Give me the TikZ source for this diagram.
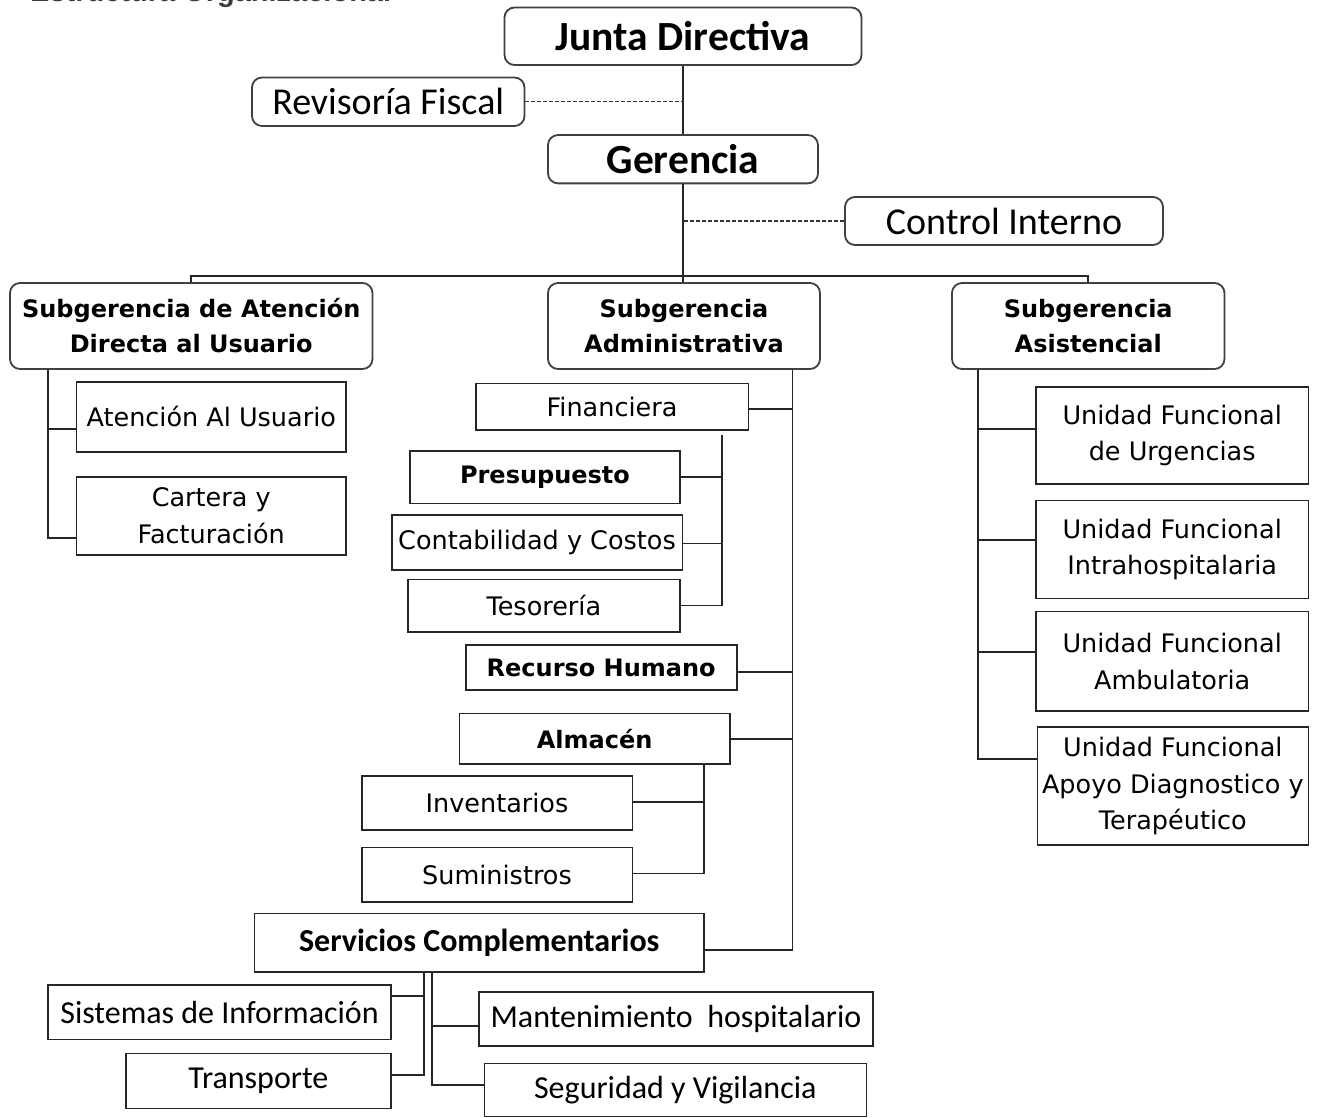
\documentclass[tikz,border=0pt]{standalone}
\usepackage{fontspec}
\usetikzlibrary{calc}
\newfontfamily\calfont{Carlito}
\newfontfamily\tahfont{DejaVu Sans}
\newfontfamily\titlefont{Liberation Sans}
\definecolor{titlegray}{RGB}{60,60,60}
\begin{document}
\begin{tikzpicture}[x=1pt,y=-1pt,
  rbox/.style={draw=black!75, line width=1.8pt, rounded corners=10pt, fill=white, inner sep=0pt, align=center},
  sbox/.style={draw=black!85, line width=1.6pt, fill=white, inner sep=0pt, align=center},
  calbig/.style={font=\calfont\bfseries\fontsize{41.5}{48}\selectfont},
  calmid/.style={font=\calfont\fontsize{38}{44}\selectfont},
  calbold/.style={font=\calfont\bfseries\fontsize{32}{38}\selectfont},
  calreg/.style={font=\calfont\fontsize{32}{38}\selectfont},
  tahbold/.style={font=\tahfont\bfseries\fontsize{24}{35}\selectfont},
  tahreg/.style={font=\tahfont\fontsize{25.5}{36.5}\selectfont},
  link/.style={line width=1.8pt, draw=black!85},
  dotlink/.style={line width=1.2pt, draw=black!80, dash pattern=on 4pt off 2pt}]
\fill[white] (0,0) rectangle (1317,1117);
\useasboundingbox (0,0) rectangle (1317,1117);
\begin{scope}
\clip (0,0) rectangle (1317,1117);
\node[anchor=base west, inner sep=0pt, font=\titlefont\bfseries\fontsize{29}{34}\selectfont, text=titlegray] (title) at (30,1) {Estructura Organizacional};
\end{scope}

% top levels
\node[rbox, calbig, minimum width=357pt, minimum height=57.5pt] (J) at (683,36.25) {Junta Directiva};
\node[rbox, calmid, minimum width=272.5pt, minimum height=48.5pt] (RF) at (388.25,101.75) {Revisoría Fiscal};
\node[rbox, calbig, minimum width=270pt, minimum height=48.3pt] (G) at (683,159.2) {Gerencia};
\node[rbox, calmid, minimum width=318pt, minimum height=48pt] (CI) at (1004,221) {Control Interno};

% subgerencias
\node[rbox, tahbold, minimum width=362.5pt, minimum height=86pt] (SA) at (191.25,326) {Subgerencia de Atención\\Directa al Usuario};
\node[rbox, tahbold, minimum width=272pt, minimum height=86pt] (SAd) at (684,326) {Subgerencia\\Administrativa};
\node[rbox, tahbold, minimum width=272.5pt, minimum height=86pt] (SAs) at (1088.25,326) {Subgerencia\\Asistencial};

% left branch
\node[sbox, tahreg, minimum width=269.5pt, minimum height=70pt] (AU) at (211.25,416.7) {Atención Al Usuario};
\node[sbox, tahreg, minimum width=269.5pt, minimum height=78.3pt] (CF) at (211.25,515.85) {Cartera y\\Facturación};

% middle branch
\node[sbox, tahreg, minimum width=272.6pt, minimum height=46.7pt] (F) at (612,406.65) {Financiera};
\node[sbox, tahbold, minimum width=270pt, minimum height=52.3pt] (P) at (545,477.15) {Presupuesto};
\node[sbox, tahreg, minimum width=290.6pt, minimum height=55pt] (CC) at (537,542.5) {Contabilidad y Costos};
\node[sbox, tahreg, minimum width=272.3pt, minimum height=52.4pt] (T) at (543.85,605.5) {Tesorería};
\node[sbox, tahbold, minimum width=271pt, minimum height=45pt] (RH) at (601.2,667.5) {Recurso Humano};
\node[sbox, tahbold, minimum width=270.7pt, minimum height=50.7pt] (Al) at (594.65,738.65) {Almacén};
\node[sbox, tahreg, minimum width=270.6pt, minimum height=54.3pt] (In) at (497,802.85) {Inventarios};
\node[sbox, tahreg, minimum width=270.6pt, minimum height=54.4pt] (Su) at (497,874.5) {Suministros};
\node[sbox, calbold, minimum width=449.5pt, minimum height=58.4pt] (SC) at (479.25,942.5) {Servicios Complementarios};
\node[sbox, calreg, minimum width=343pt, minimum height=54.3pt] (SI) at (219.5,1012.15) {Sistemas de Información};
\node[sbox, calreg, minimum width=265.2pt, minimum height=55pt] (Tr) at (258.4,1080.8) {Transporte};
\node[sbox, calreg, minimum width=394pt, minimum height=54pt] (Ma) at (676,1018.7) {Mantenimiento\ \ hospitalario};
\node[sbox, calreg, minimum width=382pt, minimum height=53.2pt] (Se) at (675.3,1089.9) {Seguridad y Vigilancia};

% right branch
\node[sbox, tahreg, minimum width=272.3pt, minimum height=97.3pt] (Ur) at (1172.15,435.55) {Unidad Funcional\\de Urgencias};
\node[sbox, tahreg, minimum width=272.3pt, minimum height=98.2pt] (IH) at (1172.15,549.4) {Unidad Funcional\\Intrahospitalaria};
\node[sbox, tahreg, minimum width=272.3pt, minimum height=99.6pt] (Am) at (1172.15,661.4) {Unidad Funcional\\Ambulatoria};
\node[sbox, tahreg, minimum width=271pt, minimum height=118pt] (Ap) at (1172.8,786) {Unidad Funcional\\Apoyo Diagnostico y\\Terapéutico};

% spine coordinates
\coordinate (bus) at (683,276);
\coordinate (lsp) at (48.3,0);
\coordinate (msp) at (792.5,0);
\coordinate (fsp) at (721.7,435);
\coordinate (asp) at (704,0);
\coordinate (scl) at (424,0);
\coordinate (scr) at (432.3,0);
\coordinate (rsp) at (978.3,0);

% top connectors
\draw[link] (J.south) -- (G.north);
\draw[dotlink] (RF.east) -- (RF.east -| J.south);
\draw[dotlink] (CI.west) -- (CI.west -| G.south);
\draw[link] (G.south) -- (G.south |- SAd.north);
\draw[link] (SA.north) |- (bus) -| (SAs.north);

% left
\draw[link] (SA.south -| lsp) |- ([yshift=-22pt]CF.west);
\draw[link] ([yshift=-12.6pt]AU.west) coordinate (a1) -- (a1 -| lsp);

% middle
\draw[link] (SAd.south -| msp) |- ([yshift=-7.5pt]SC.east);
\draw[link] ([yshift=-2.6pt]F.east) coordinate (m1) -- (m1 -| msp);
\draw[link] ([yshift=-4.2pt]RH.east) coordinate (m2) -- (m2 -| msp);
\draw[link] (Al.east) -- (Al.east -| msp);
\draw[link] (fsp) |- (T.east);
\draw[link] (P.east) -- (P.east -| fsp);
\draw[link] ([yshift=-1pt]CC.east) coordinate (m3) -- (m3 -| fsp);
\draw[link] (Al.south -| asp) |- ([yshift=1pt]Su.east);
\draw[link] ([yshift=1pt]In.east) coordinate (m4) -- (m4 -| asp);
\draw[link] (SC.south -| scl) |- ([yshift=6pt]Tr.east);
\draw[link] ([yshift=16pt]SI.east) coordinate (m5) -- (m5 -| scl);
\draw[link] (SC.south -| scr) |- ([yshift=5pt]Se.west);
\draw[link] ([yshift=-7.3pt]Ma.west) coordinate (m6) -- (m6 -| scr);

% right
\draw[link] (SAs.south -| rsp) |- ([yshift=27pt]Ap.west);
\draw[link] ([yshift=6.3pt]Ur.west) coordinate (r1) -- (r1 -| rsp);
\draw[link] ([yshift=9.7pt]IH.west) coordinate (r2) -- (r2 -| rsp);
\draw[link] ([yshift=9.4pt]Am.west) coordinate (r3) -- (r3 -| rsp);
\end{tikzpicture}
\end{document}
